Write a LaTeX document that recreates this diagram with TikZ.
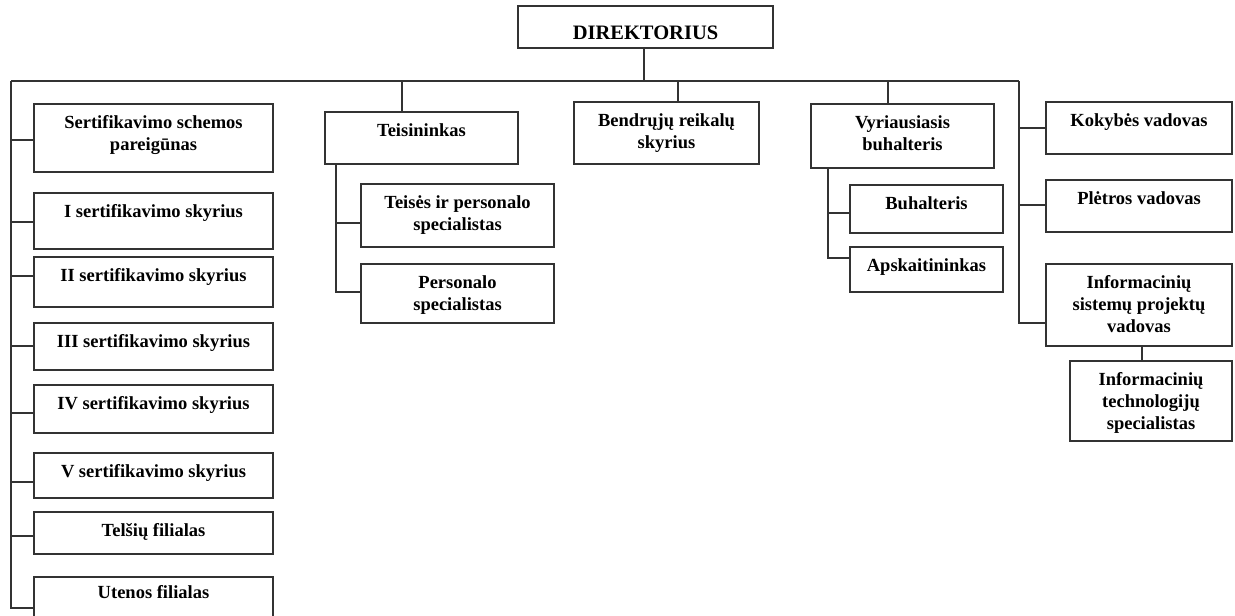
\documentclass[tikz,border=0pt]{standalone}
\usepackage{fontspec}
\setmainfont{Liberation Serif}
\begin{document}
\begin{tikzpicture}[x=1pt,y=-1pt,
  box/.style={draw=black!80, line width=1.1pt, fill=white, inner sep=0pt, outer sep=0pt},
  lbl/.style={anchor=north, inner sep=0pt, align=center, yshift=-8.6pt,
    font=\fontsize{18.5}{22}\selectfont\bfseries, text=black},
  biglbl/.style={lbl, yshift=-8pt, font=\fontsize{20.5}{24}\selectfont\bfseries},
  conn/.style={draw=black!80, line width=1.1pt}]
\useasboundingbox (0,0) rectangle (1235,616);
\clip (0,0) rectangle (1235,616);
\newcommand\bx[7][lbl]{\node[box, minimum width={#5-#3}, minimum height={#6-#4},
  label={[#1]north:{\strut #7}}] (#2) at ({(#3+#5)/2},{(#4+#6)/2}) {};}
% boxes
\bx[biglbl]{dir}{518}{6}{773}{48}{DIREKTORIUS}
\bx{sert}{34}{104}{273}{172}{Sertifikavimo schemos\\pareigūnas}
\bx{sa}{34}{193}{273}{249}{I sertifikavimo skyrius}
\bx{sb}{34}{257}{273}{307}{II sertifikavimo skyrius}
\bx{sc}{34}{323}{273}{370}{III sertifikavimo skyrius}
\bx{sd}{34}{385}{273}{433}{IV sertifikavimo skyrius}
\bx{se}{34}{453}{273}{498}{V sertifikavimo skyrius}
\bx{tel}{34}{512}{273}{554}{Telšių filialas}
\bx[lbl,yshift=3pt]{ute}{34}{577}{273}{640}{Utenos filialas}
\bx{teis}{325}{112}{518}{164}{Teisininkas}
\bx{tsp}{361}{184}{554}{247}{Teisės ir personalo\\specialistas}
\bx{psp}{361}{264}{554}{323}{Personalo\\specialistas}
\bx{bend}{574}{102}{759}{164}{Bendrųjų reikalų\\skyrius}
\bx{vyr}{811}{104}{994}{168}{Vyriausiasis\\buhalteris}
\bx{buh}{850}{185}{1003}{233}{Buhalteris}
\bx{aps}{850}{247}{1003}{292}{Apskaitininkas}
\bx{kok}{1046}{102}{1232}{154}{Kokybės vadovas}
\bx{plet}{1046}{180}{1232}{232}{Plėtros vadovas}
\bx{info}{1046}{264}{1232}{346}{Informacinių\\sistemų projektų\\vadovas}
\bx{itech}{1070}{361}{1232}{441}{Informacinių\\technologijų\\specialistas}
% bus
\coordinate (busL) at (11,81);
\coordinate (busR) at (1019,81);
\draw[conn] (dir.south -| 644,0) -- (644,81);
\draw[conn] (busL) -- (busR);
% left column
\draw[conn] (busL) -- (11,608) -- (ute.west |- 0,608);
\foreach \n/\y in {sert/140, sa/222, sb/276, sc/346, sd/413, se/482, tel/536}
  \draw[conn] (11,\y) -- (\n.west |- 0,\y);
% Teisininkas
\draw[conn] (402,81) -- (teis.north -| 402,0);
\draw[conn] (teis.south -| 336,0) -- (336,292) -- (psp.west |- 0,292);
\draw[conn] (336,223) -- (tsp.west |- 0,223);
% Bendruju
\draw[conn] (678,81) -- (bend.north -| 678,0);
% Vyriausiasis
\draw[conn] (888,81) -- (vyr.north -| 888,0);
\draw[conn] (vyr.south -| 828,0) -- (828,258) -- (aps.west |- 0,258);
\draw[conn] (828,213) -- (buh.west |- 0,213);
% right column
\draw[conn] (busR) -- (1019,323) -- (info.west |- 0,323);
\draw[conn] (1019,128) -- (kok.west |- 0,128);
\draw[conn] (1019,205) -- (plet.west |- 0,205);
\draw[conn] (info.south -| 1142,0) -- (itech.north -| 1142,0);
\end{tikzpicture}
\end{document}
